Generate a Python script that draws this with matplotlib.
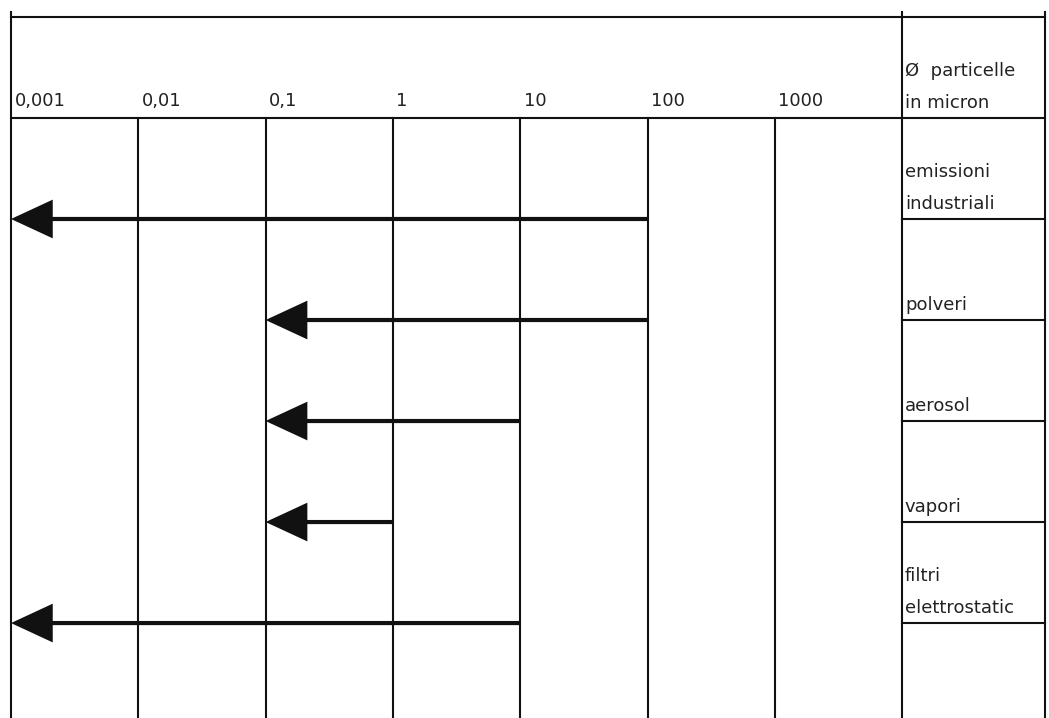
import numpy as np
import matplotlib
matplotlib.use("Agg")
import matplotlib.pyplot as plt
from matplotlib.transforms import offset_copy

# decade grid (particle diameter in micron)
decades = [0.001, 0.01, 0.1, 1, 10, 100, 1000]
tick_labels = ["0,001", "0,01", "0,1", "1", "10", "100", "1000"]
header_label = "Ø  particelle\nin micron"

# size ranges per source
categories = ["emissioni\nindustriali", "polveri", "aerosol", "vapori", "filtri\nelettrostatic"]
range_max = [100, 100, 10, 1, 10]
range_min = [0.001, 0.1, 0.1, 0.1, 0.001]

plt.rcParams["font.family"] = ["DejaVu Sans"]

fig = plt.figure(figsize=(10.49, 7.18), dpi=100)
ax = fig.add_axes([0, 0, 1, 1])
ax.set_xscale("log")
ax.set_xlim(10 ** (-3 - 11 / 127.3), 10 ** (-3 + 1038 / 127.3))
ax.set_ylim(6.94, -0.168)
ax.axis("off")

col_sep = decades[-1] * 10
right_edge = 10 ** (-3 + 1034 / 127.3)
n_rows = len(categories)
bottom = 6.94
lw_grid = 1.5
ink = "#111111"

# frame: top border, header separator, left border, column separator, right border
ax.plot([decades[0], right_edge], [0, 0], color=ink, lw=lw_grid)
ax.plot([decades[0], right_edge], [1, 1], color=ink, lw=lw_grid)
for x in [decades[0], col_sep, right_edge]:
    ax.plot([x, x], [-0.05, bottom], color=ink, lw=lw_grid)

# decade lines below header
for x in decades[1:]:
    ax.plot([x, x], [1, bottom], color=ink, lw=lw_grid)

# decade labels
lab_tr = offset_copy(ax.transData, fig=fig, x=2.5, y=6, units="points")
for x, t in zip(decades, tick_labels):
    ax.text(x, 1, t, transform=lab_tr, ha="left", va="bottom", fontsize=13, color="#222222")

# header label of right column
txt_tr = offset_copy(ax.transData, fig=fig, x=2, y=4.5, units="points")
ax.text(col_sep, 1, header_label, transform=txt_tr, ha="left", va="bottom",
        fontsize=13, linespacing=1.95, color="#222222")

# rows in the right column
for i, cat in enumerate(categories):
    yb = i + 2
    ax.plot([col_sep, right_edge], [yb, yb], color=ink, lw=lw_grid)
    ax.text(col_sep, yb, cat, transform=txt_tr, ha="left", va="bottom",
            fontsize=13, linespacing=1.95, color="#222222")

# range arrows
for i in range(n_rows):
    yb = i + 2
    ax.annotate("", xy=(range_min[i], yb), xytext=(range_max[i], yb),
                arrowprops=dict(arrowstyle="-|>,head_length=1.25,head_width=0.58",
                                mutation_scale=20, color=ink, lw=3,
                                joinstyle="miter", capstyle="butt",
                                shrinkA=0, shrinkB=0))

fig.savefig("out.png", dpi=100, facecolor="white")
